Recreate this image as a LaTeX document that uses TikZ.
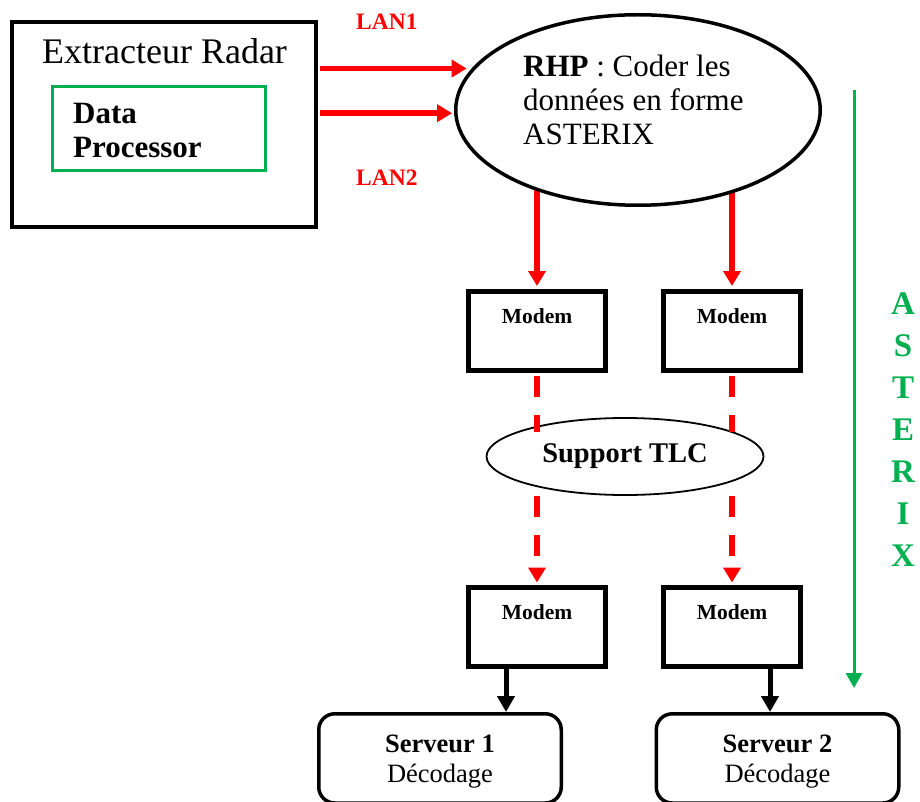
\documentclass[tikz,border=0pt]{standalone}
\usepackage{fontspec}
\setmainfont{Liberation Serif}
\usetikzlibrary{arrows.meta,shapes.geometric,calc,backgrounds}
\definecolor{lanred}{RGB}{255,0,0}
\definecolor{astgreen}{RGB}{0,176,80}

\begin{document}
\begin{tikzpicture}[x=1pt,y=-1pt,
  txt/.style={inner sep=0pt},
  modem/.style={draw, line width=5pt, minimum width=137pt, minimum height=79pt,
    inner sep=0pt, font=\bfseries\fontsize{21.5}{21.5}\selectfont,
    text height=31.5pt, text depth=47.5pt},
  server/.style={draw, line width=3.5pt, rounded corners=16pt,
    minimum width=242.5pt, minimum height=89.25pt, inner sep=0pt,
    font=\fontsize{26.5}{30}\selectfont, text height=38.25pt, text depth=51pt},
  redarrow/.style={draw=lanred, line width=5.5pt,
    -{Triangle[length=15pt,width=17pt]}},
  reddash/.style={draw=lanred, line width=5.5pt, dash pattern=on 21pt off 18pt},
  blkarrow/.style={draw=black, line width=5pt,
    -{Triangle[length=16pt,width=17pt]}},
]
\useasboundingbox (0,0) rectangle (920,802);

% radar extractor with its data processor
\node[draw, line width=4pt, minimum width=304pt, minimum height=205pt, inner sep=0pt]
  (ext) at (164,124.5) {};
\node[txt, anchor=base, font=\fontsize{36}{40}\selectfont] (exttitle) at (164.5,64)
  {Extracteur Radar};
\node[draw=astgreen, line width=3pt, minimum width=213pt, minimum height=84pt, inner sep=0pt]
  (dp) at (159,128.5) {};
\node[txt, anchor=base west, font=\bfseries\fontsize{31}{34}\selectfont] (dptext) at (73,124)
  {\begin{tabular}[t]{@{}l@{}}Data\\Processor\end{tabular}};

% LAN labels
\node[txt, anchor=base west, text=lanred, font=\bfseries\fontsize{23.5}{23.5}\selectfont]
  (lan1) at (356,30) {LAN1};
\node[txt, anchor=base west, text=lanred, font=\bfseries\fontsize{23.5}{23.5}\selectfont]
  (lan2) at (356,186) {LAN2};

% RHP encoder
\node[draw, ellipse, line width=3.5pt, fill=white, minimum width=364.5pt,
  minimum height=190.5pt, inner sep=0pt] (rhp) at (638,110) {};
\node[txt, anchor=base west, font=\fontsize{31}{34}\selectfont] (rhptext) at (523,77)
  {\begin{tabular}[t]{@{}l@{}}\textbf{RHP} : Coder les\\données en forme\\ASTERIX\end{tabular}};

% modems
\node[modem] (m1) at (537,331) {Modem};
\node[modem] (m2) at (732,331) {Modem};
\node[modem] (m3) at (537,627) {Modem};
\node[modem] (m4) at (732,627) {Modem};

% telecom support
\node[draw, ellipse, line width=1.8pt, fill=white, minimum width=277pt, minimum height=77pt,
  inner sep=0pt, font=\bfseries\fontsize{28.5}{28.5}\selectfont] (tlc) at (625,456.5) {Support TLC};

% servers
\node[server] (s1) at (440,758.4)
  {\begin{tabular}[t]{@{}c@{}}\textbf{Serveur 1}\\Décodage\end{tabular}};
\node[server] (s2) at (777.5,758.4)
  {\begin{tabular}[t]{@{}c@{}}\textbf{Serveur 2}\\Décodage\end{tabular}};

% LAN links
\draw[redarrow, shorten <=2pt, shorten >=5pt] (ext.east |- rhp.166.4) -- (rhp.166.4);
\draw[redarrow, shorten <=2pt, shorten >=2pt] (ext.east |- rhp.181.26) -- (rhp.181.26);

% RHP to modems (start hidden under the ellipse fill)
\begin{scope}[on background layer]
  \draw[redarrow, shorten >=3pt] (rhp.center -| m1.north) -- (m1.north);
  \draw[redarrow, shorten >=3pt] (rhp.center -| m2.north) -- (m2.north);
\end{scope}

% modem links across the telecom support
\draw[reddash] ($(m1.south)+(0,2.5)$) -- ($(m1.south |- tlc.north)+(0,15)$);
\draw[reddash] ($(m2.south)+(0,2.5)$) -- ($(m2.south |- tlc.north)+(0,15)$);
\draw[reddash, -{Triangle[length=15pt,width=17pt]}, shorten >=2.5pt]
  (m1.south |- tlc.south) -- (m3.north);
\draw[reddash, -{Triangle[length=15pt,width=17pt]}, shorten >=2.5pt]
  (m2.south |- tlc.south) -- (m4.north);

% modems to servers
\coordinate (d1) at ($(m3.south)+(-31,0)$);
\coordinate (d2) at ($(m4.south)+(38,0)$);
\draw[blkarrow] (d1) -- (d1 |- s1.north);
\draw[blkarrow] (d2) -- (d2 |- s2.north);

% ASTERIX flow
\coordinate (astTop) at (854,90);
\coordinate (astBot) at (854,688);
\draw[astgreen, line width=3pt, -{Triangle[length=15pt,width=16pt]}] (astTop) -- (astBot);
\node[txt, anchor=base, text=astgreen, font=\bfseries\fontsize{33}{42}\selectfont]
  (astlbl) at (903,314)
  {\begin{tabular}[t]{@{}c@{}}A\\S\\T\\E\\R\\I\\X\end{tabular}};
\end{tikzpicture}
\end{document}
